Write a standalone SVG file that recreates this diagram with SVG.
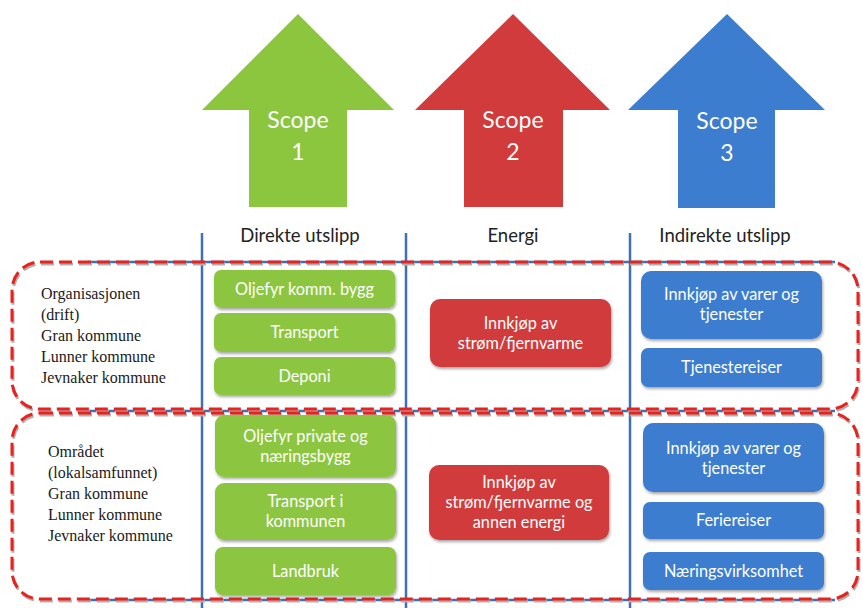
<svg xmlns="http://www.w3.org/2000/svg" width="863" height="608" viewBox="0 0 863 608">
  <defs>
    <filter id="shadow" x="-10%" y="-20%" width="120%" height="150%">
      <feGaussianBlur in="SourceAlpha" stdDeviation="1.5"/>
      <feOffset dx="1" dy="2" result="b"/>
      <feComponentTransfer><feFuncA type="linear" slope="0.35"/></feComponentTransfer>
      <feMerge><feMergeNode/><feMergeNode in="SourceGraphic"/></feMerge>
    </filter>
  </defs>
  <style>
    .arrow-text { font-family: Lato, "Liberation Sans", sans-serif; font-size: 23px; fill: #ffffff; text-anchor: middle; }
    .head { font-family: Lato, "Liberation Sans", sans-serif; font-size: 18.5px; fill: #222222; text-anchor: middle; }
    .box-text { font-family: Lato, "Liberation Sans", sans-serif; font-size: 16.3px; fill: #ffffff; text-anchor: middle; }
    .row-label { font-family: "Liberation Serif", serif; font-size: 16px; fill: #1a1a1a; }
    .green { fill: #8cc63f; }
    .red { fill: #d13b3b; }
    .blue { fill: #3c7dcf; }
    .box { filter: url(#shadow); }
    .grid { stroke: #3f6fb5; stroke-width: 2.5; fill: none; }
    .dash-shadow { stroke: #b0b0b0; stroke-width: 3; fill: none; stroke-dasharray: 13 6; }
    .dash { stroke: #e8231f; stroke-width: 3; fill: none; stroke-dasharray: 13 6; }
  </style>

  <rect width="863" height="608" fill="#ffffff"/>

  <!-- Scope arrows -->
  <g id="scope1">
    <polygon class="green" points="298,14 394,110 347,110 347,207 249,207 249,110 202,110"/>
    <text class="arrow-text" x="298" y="128">Scope</text>
    <text class="arrow-text" x="298" y="160">1</text>
  </g>
  <g id="scope2">
    <polygon class="red" points="513,14 610,110 563,110 563,207 464,207 464,110 415,110"/>
    <text class="arrow-text" x="513" y="128">Scope</text>
    <text class="arrow-text" x="513" y="160">2</text>
  </g>
  <g id="scope3">
    <polygon class="blue" points="727,14 825,110 775,110 775,208 678,208 678,110 628,110"/>
    <text class="arrow-text" x="727" y="129">Scope</text>
    <text class="arrow-text" x="727" y="161">3</text>
  </g>

  <!-- Column headings -->
  <g id="headings">
    <text class="head" x="300" y="242">Direkte utslipp</text>
    <text class="head" x="513" y="242">Energi</text>
    <text class="head" x="725" y="242">Indirekte utslipp</text>
  </g>

  <!-- Table grid -->
  <g id="grid">
    <line class="grid" x1="202" y1="233" x2="202" y2="608"/>
    <line class="grid" x1="406" y1="233" x2="406" y2="608"/>
    <line class="grid" x1="630" y1="233" x2="630" y2="608"/>
    <line class="grid" x1="88" y1="262" x2="835" y2="262" stroke-width="2"/>
    <line class="grid" x1="88" y1="411" x2="835" y2="411" stroke-width="2"/>
    <line class="grid" x1="88" y1="600" x2="835" y2="600" stroke-width="2"/>
  </g>

  <!-- Dashed row frames -->
  <g id="row-frames">
    <rect class="dash-shadow" x="13" y="264" width="846" height="147" rx="28"/>
    <rect class="dash" x="12" y="262" width="846" height="147" rx="28"/>
    <rect class="dash-shadow" x="13" y="415" width="846" height="186" rx="28"/>
    <rect class="dash" x="12" y="413" width="846" height="186" rx="28"/>
  </g>

  <!-- Row labels -->
  <g id="label-org">
    <text class="row-label" x="41" y="299">Organisasjonen</text>
    <text class="row-label" x="41" y="320">(drift)</text>
    <text class="row-label" x="41" y="341">Gran kommune</text>
    <text class="row-label" x="41" y="362">Lunner kommune</text>
    <text class="row-label" x="41" y="383">Jevnaker kommune</text>
  </g>
  <g id="label-area">
    <text class="row-label" x="48" y="457">Området</text>
    <text class="row-label" x="48" y="478">(lokalsamfunnet)</text>
    <text class="row-label" x="48" y="499">Gran kommune</text>
    <text class="row-label" x="48" y="520">Lunner kommune</text>
    <text class="row-label" x="48" y="541">Jevnaker kommune</text>
  </g>

  <!-- Row 1: organisation -->
  <g id="oljefyr-komm">
    <rect class="green box" x="214" y="270" width="181" height="38" rx="7"/>
    <text class="box-text" x="304.5" y="295">Oljefyr komm. bygg</text>
  </g>
  <g id="transport">
    <rect class="green box" x="214" y="313" width="181" height="39" rx="7"/>
    <text class="box-text" x="304.5" y="338">Transport</text>
  </g>
  <g id="deponi">
    <rect class="green box" x="214" y="357" width="181" height="38" rx="7"/>
    <text class="box-text" x="304.5" y="382">Deponi</text>
  </g>
  <g id="strom-org">
    <rect class="red box" x="430" y="299" width="181" height="68" rx="10"/>
    <text class="box-text" x="520.5" y="329">Innkjøp av</text>
    <text class="box-text" x="520.5" y="349">strøm/fjernvarme</text>
  </g>
  <g id="varer-org">
    <rect class="blue box" x="641" y="271" width="181" height="68" rx="10"/>
    <text class="box-text" x="731.5" y="300">Innkjøp av varer og</text>
    <text class="box-text" x="731.5" y="320">tjenester</text>
  </g>
  <g id="tjenestereiser">
    <rect class="blue box" x="641" y="348" width="181" height="39" rx="7"/>
    <text class="box-text" x="731.5" y="373">Tjenestereiser</text>
  </g>

  <!-- Row 2: local community -->
  <g id="oljefyr-private">
    <rect class="green box" x="215" y="415" width="181" height="62" rx="9"/>
    <text class="box-text" x="305.5" y="442">Oljefyr private og</text>
    <text class="box-text" x="305.5" y="462">næringsbygg</text>
  </g>
  <g id="transport-kommunen">
    <rect class="green box" x="215" y="483" width="181" height="57" rx="9"/>
    <text class="box-text" x="305.5" y="507">Transport i</text>
    <text class="box-text" x="305.5" y="527">kommunen</text>
  </g>
  <g id="landbruk">
    <rect class="green box" x="215" y="547" width="181" height="48" rx="8"/>
    <text class="box-text" x="305.5" y="577">Landbruk</text>
  </g>
  <g id="strom-area">
    <rect class="red box" x="429" y="465" width="180" height="75" rx="10"/>
    <text class="box-text" x="519" y="488">Innkjøp av</text>
    <text class="box-text" x="519" y="508">strøm/fjernvarme og</text>
    <text class="box-text" x="519" y="528">annen energi</text>
  </g>
  <g id="varer-area">
    <rect class="blue box" x="643" y="423" width="181" height="69" rx="10"/>
    <text class="box-text" x="733.5" y="454">Innkjøp av varer og</text>
    <text class="box-text" x="733.5" y="474">tjenester</text>
  </g>
  <g id="feriereiser">
    <rect class="blue box" x="643" y="502" width="181" height="37" rx="7"/>
    <text class="box-text" x="733.5" y="526">Feriereiser</text>
  </g>
  <g id="naeringsvirksomhet">
    <rect class="blue box" x="643" y="552" width="181" height="38" rx="7"/>
    <text class="box-text" x="733.5" y="577">Næringsvirksomhet</text>
  </g>
</svg>
